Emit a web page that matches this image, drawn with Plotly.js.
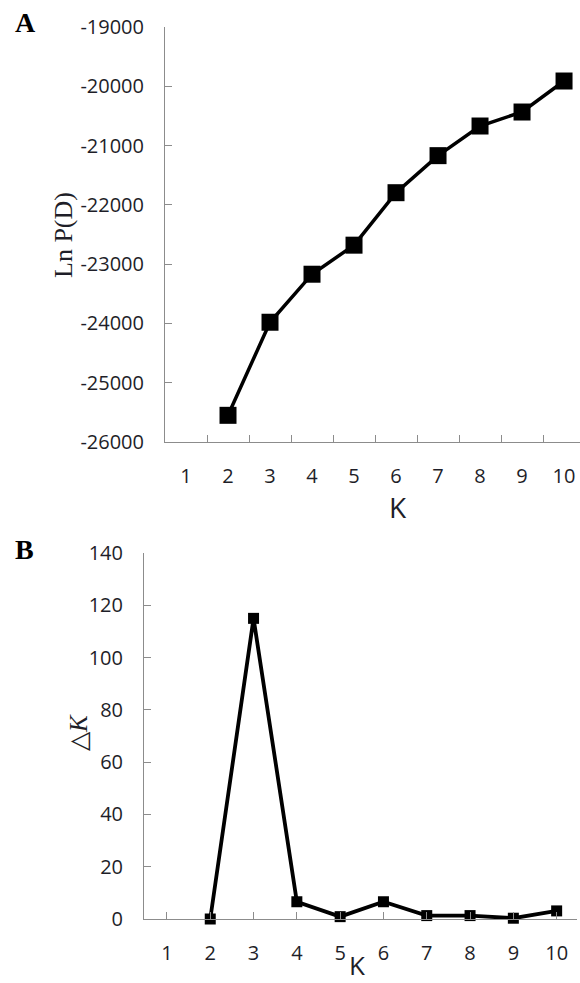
<!DOCTYPE html>
<html>
<head>
<meta charset="utf-8">
<script src="https://cdn.plot.ly/plotly-3.0.1.min.js"></script>
<style>
html,body{margin:0;padding:0;background:#fff;}
#chart{width:580px;height:983px;}
</style>
</head>
<body>
<div id="chart"></div>
<script>
// ---- data ----
const K_CATEGORIES = ['1','2','3','4','5','6','7','8','9','10'];
const K_A = ['2','3','4','5','6','7','8','9','10'];
const LN_PD = [-25550, -23980, -23170, -22680, -21795, -21170, -20670, -20434, -19911];
const K_B = ['2','3','4','5','6','7','8','9','10'];
const DELTA_K = [0, 115, 6.6, 0.9, 6.6, 1.3, 1.3, 0.3, 3.1];
const A_YTICKVALS = [-26000, -25000, -24000, -23000, -22000, -21000, -20000, -19000];
const A_YTICKTEXT = ['-26000', '-25000', '-24000', '-23000', '-22000', '-21000', '-20000', '-19000'];
const B_YTICKVALS = [0, 20, 40, 60, 80, 100, 120, 140];
const B_YTICKTEXT = ['0', '20', '40', '60', '80', '100', '120', '140'];

const W = 580, H = 983;
const axisGrey = '#8c8c8c';
const tickFont = {family: 'Open Sans, sans-serif', size: 20, color: '#1e1e28'};

const traces = [
  {
    x: K_A, y: LN_PD, xaxis: 'x', yaxis: 'y', type: 'scatter', mode: 'lines+markers',
    line: {color: '#000', width: 3.5},
    marker: {symbol: 'square', size: 17, color: '#000'},
    cliponaxis: false, hoverinfo: 'skip'
  },
  {
    x: K_B, y: DELTA_K, xaxis: 'x2', yaxis: 'y2', type: 'scatter', mode: 'lines+markers',
    line: {color: '#000', width: 3.8},
    marker: {symbol: 'square', size: 11, color: '#000'},
    cliponaxis: false, hoverinfo: 'skip'
  }
];

const commonAxis = {
  showgrid: false, zeroline: false, showline: true, linecolor: axisGrey, linewidth: 1,
  ticks: 'inside', ticklen: 7, tickwidth: 1, tickcolor: axisGrey, tickfont: tickFont
};

const layout = {
  width: W, height: H,
  margin: {l: 0, r: 0, t: 0, b: 0},
  paper_bgcolor: '#fff', plot_bgcolor: '#fff',
  showlegend: false,
  xaxis: Object.assign({}, commonAxis, {
    type: 'category', categoryorder: 'array', categoryarray: K_CATEGORIES,
    tickson: 'boundaries', range: [-0.5, 9.38],
    domain: [165 / W, 1], anchor: 'y', ticklabelstandoff: 16
  }),
  yaxis: Object.assign({}, commonAxis, {
    range: [-26000, -19000], tickmode: 'array', tickvals: A_YTICKVALS, ticktext: A_YTICKTEXT,
    domain: [(H - 442) / H, (H - 27) / H], anchor: 'x', ticklabelstandoff: 16
  }),
  xaxis2: Object.assign({}, commonAxis, {
    type: 'category', categoryorder: 'array', categoryarray: K_CATEGORIES,
    range: [-0.53, 9.47],
    domain: [144 / W, 577 / W], anchor: 'y2', ticklabelstandoff: 16
  }),
  yaxis2: Object.assign({}, commonAxis, {
    range: [0, 140], tickmode: 'array', tickvals: B_YTICKVALS, ticktext: B_YTICKTEXT,
    domain: [(H - 919) / H, (H - 553) / H], anchor: 'x2', ticklabelstandoff: 16
  }),
  annotations: [
    {text: '<b>A</b>', x: 25 / W, y: 1 - 22 / H, xref: 'paper', yref: 'paper', showarrow: false,
     xanchor: 'center', yanchor: 'middle', font: {family: 'Liberation Serif, Times New Roman, serif', size: 28, color: '#000'}},
    {text: '<b>B</b>', x: 24 / W, y: 1 - 549 / H, xref: 'paper', yref: 'paper', showarrow: false,
     xanchor: 'center', yanchor: 'middle', font: {family: 'Liberation Serif, Times New Roman, serif', size: 28, color: '#000'}},
    {text: 'Ln P(D)', x: 63 / W, y: 1 - 235 / H, xref: 'paper', yref: 'paper', showarrow: false,
     textangle: -90, xanchor: 'center', yanchor: 'middle',
     font: {family: 'Liberation Serif, Times New Roman, serif', size: 26, color: '#1e1e28'}},
    {text: 'K', x: 398 / W, y: 1 - 507 / H, xref: 'paper', yref: 'paper', showarrow: false,
     xanchor: 'center', yanchor: 'middle', font: {family: 'Open Sans, sans-serif', size: 28, color: '#1e1e28'}},
    {text: '△<i>K</i>', x: 78 / W, y: 1 - 733 / H, xref: 'paper', yref: 'paper', showarrow: false,
     textangle: -90, xanchor: 'center', yanchor: 'middle',
     font: {family: 'Liberation Serif, Times New Roman, serif', size: 25, color: '#1e1e28'}},
    {text: 'K', x: 357 / W, y: 1 - 965 / H, xref: 'paper', yref: 'paper', showarrow: false,
     xanchor: 'center', yanchor: 'middle', font: {family: 'Open Sans, sans-serif', size: 26, color: '#1e1e28'}}
  ]
};

Plotly.newPlot('chart', traces, layout, {staticPlot: true, displayModeBar: false});
</script>
</body>
</html>
